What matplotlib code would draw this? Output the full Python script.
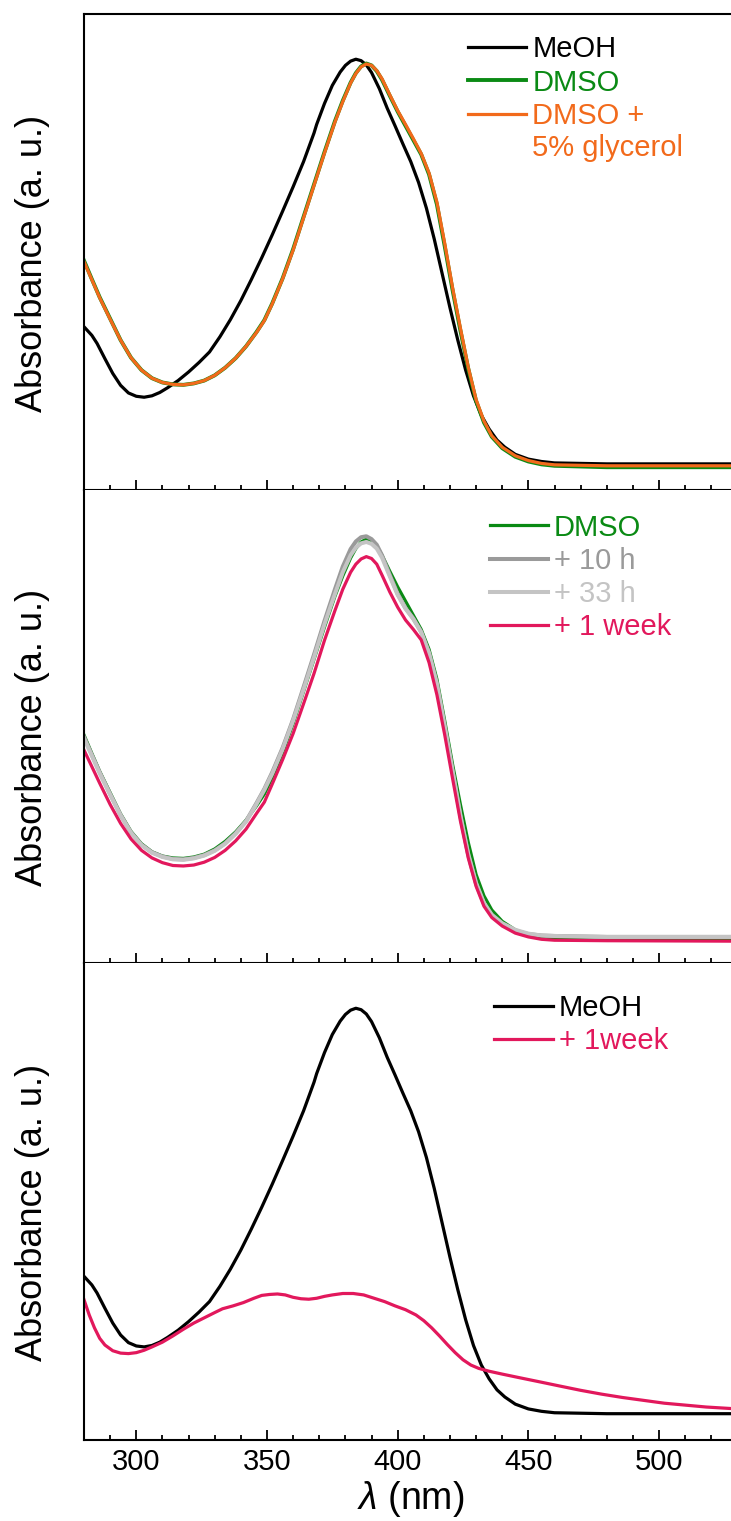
import matplotlib
matplotlib.use("Agg")
import matplotlib.pyplot as plt
from matplotlib.ticker import MultipleLocator

plt.rcParams['font.family'] = ['Liberation Sans', 'DejaVu Sans']
plt.rcParams['mathtext.fontset'] = 'custom'
plt.rcParams['mathtext.rm'] = 'Liberation Sans'
plt.rcParams['mathtext.it'] = 'Liberation Sans:italic'
plt.rcParams['lines.solid_joinstyle'] = 'round'

# data (absorbance in arbitrary units, 0-1 per panel)
wl_meoh = [280, 283, 285, 288, 291, 294, 297, 300, 303, 306, 309, 312, 316, 320, 324, 328,
           332, 336, 340, 344, 348, 352, 356, 360, 364, 368, 369, 372, 375, 378, 380, 382,
           384, 386, 388, 390, 393, 396, 399, 402, 405, 408, 411, 414, 417, 420, 423, 426,
           429, 432, 435, 438, 441, 445, 450, 455, 460, 470, 480, 500, 530]
abs_meoh = [0.343, 0.325, 0.308, 0.276, 0.245, 0.220, 0.204, 0.197, 0.195, 0.198, 0.205, 0.215,
            0.230, 0.248, 0.268, 0.290, 0.322, 0.358, 0.398, 0.442, 0.488, 0.536, 0.586, 0.637,
            0.690, 0.750, 0.768, 0.812, 0.850, 0.878, 0.892, 0.901, 0.905, 0.902, 0.893, 0.877,
            0.843, 0.802, 0.765, 0.727, 0.690, 0.646, 0.592, 0.527, 0.455, 0.383, 0.315, 0.252,
            0.198, 0.157, 0.128, 0.105, 0.090, 0.075, 0.065, 0.060, 0.057, 0.056, 0.055, 0.055,
            0.055]

wl_dmso = [280, 283, 286, 290, 294, 298, 302, 306, 310, 314, 318, 322, 326, 330, 334, 338,
           342, 346, 349, 352, 356, 360, 364, 368, 372, 376, 379, 382, 384, 386, 388, 390,
           392, 394, 397, 400, 403, 406, 409, 412, 415, 418, 421, 424, 427, 430, 433, 436,
           440, 445, 450, 455, 460, 480, 530]
abs_dmso = [0.482, 0.443, 0.405, 0.360, 0.315, 0.278, 0.252, 0.235, 0.226, 0.222, 0.221, 0.224,
            0.230, 0.241, 0.257, 0.277, 0.302, 0.332, 0.357, 0.392, 0.445, 0.506, 0.574, 0.642,
            0.710, 0.775, 0.818, 0.856, 0.876, 0.890, 0.896, 0.892, 0.880, 0.862, 0.828, 0.795,
            0.765, 0.735, 0.705, 0.663, 0.600, 0.512, 0.420, 0.335, 0.255, 0.187, 0.142, 0.112,
            0.088, 0.070, 0.060, 0.054, 0.051, 0.048, 0.048]
abs_glyc = [0.480, 0.442, 0.404, 0.359, 0.315, 0.278, 0.252, 0.235, 0.226, 0.222, 0.221, 0.224,
            0.230, 0.241, 0.257, 0.277, 0.302, 0.331, 0.356, 0.391, 0.444, 0.504, 0.572, 0.640,
            0.708, 0.773, 0.816, 0.855, 0.875, 0.889, 0.895, 0.892, 0.881, 0.864, 0.830, 0.797,
            0.768, 0.738, 0.707, 0.666, 0.605, 0.518, 0.425, 0.340, 0.258, 0.190, 0.145, 0.114,
            0.090, 0.072, 0.062, 0.056, 0.053, 0.051, 0.051]

abs_10h = [0.478, 0.440, 0.403, 0.357, 0.313, 0.276, 0.250, 0.234, 0.225, 0.220, 0.219, 0.222,
           0.228, 0.238, 0.253, 0.274, 0.300, 0.338, 0.368, 0.403, 0.455, 0.515, 0.583, 0.652,
           0.723, 0.790, 0.838, 0.875, 0.891, 0.900, 0.902, 0.896, 0.884, 0.862, 0.820, 0.780,
           0.750, 0.728, 0.700, 0.655, 0.590, 0.500, 0.405, 0.310, 0.228, 0.167, 0.125, 0.100,
           0.082, 0.068, 0.061, 0.058, 0.057, 0.055, 0.055]
abs_33h = [0.475, 0.438, 0.401, 0.356, 0.312, 0.275, 0.249, 0.233, 0.224, 0.219, 0.218, 0.221,
           0.227, 0.237, 0.252, 0.273, 0.299, 0.336, 0.366, 0.400, 0.452, 0.512, 0.578, 0.646,
           0.716, 0.780, 0.826, 0.862, 0.878, 0.887, 0.890, 0.886, 0.876, 0.857, 0.817, 0.778,
           0.749, 0.727, 0.699, 0.655, 0.590, 0.500, 0.406, 0.312, 0.230, 0.169, 0.127, 0.102,
           0.084, 0.070, 0.062, 0.058, 0.057, 0.055, 0.055]
abs_week = [0.450, 0.415, 0.380, 0.335, 0.295, 0.262, 0.238, 0.222, 0.212, 0.206, 0.205, 0.207,
            0.213, 0.223, 0.238, 0.258, 0.283, 0.316, 0.340, 0.378, 0.430, 0.485, 0.548, 0.612,
            0.682, 0.745, 0.790, 0.826, 0.843, 0.854, 0.859, 0.855, 0.843, 0.820, 0.784, 0.752,
            0.725, 0.705, 0.683, 0.635, 0.567, 0.482, 0.390, 0.300, 0.222, 0.162, 0.120, 0.096,
            0.078, 0.063, 0.055, 0.050, 0.048, 0.047, 0.046]

wl_meoh_week = [280, 282, 284, 286, 288, 291, 294, 297, 300, 303, 306, 310, 314, 318, 322, 326,
                330, 333, 337, 341, 345, 348, 351, 354, 357, 360, 363, 366, 369, 372, 375, 379,
                383, 387, 391, 395, 399, 403, 407, 410, 413, 416, 419, 422, 425, 428, 431, 435,
                440, 447, 455, 462, 470, 478, 486, 494, 502, 510, 518, 530]
abs_meoh_week = [0.294, 0.262, 0.235, 0.213, 0.199, 0.187, 0.182, 0.181, 0.183, 0.188, 0.195,
                 0.205, 0.218, 0.232, 0.245, 0.256, 0.267, 0.275, 0.281, 0.288, 0.297, 0.303,
                 0.305, 0.306, 0.304, 0.299, 0.296, 0.295, 0.297, 0.301, 0.304, 0.307, 0.307,
                 0.304, 0.297, 0.290, 0.281, 0.273, 0.262, 0.250, 0.235, 0.218, 0.200, 0.183,
                 0.168, 0.157, 0.150, 0.144, 0.138, 0.130, 0.121, 0.113, 0.104, 0.096, 0.089,
                 0.083, 0.077, 0.073, 0.069, 0.065]

black = '#000000'
green = '#0A8A14'
orange = '#F26A1B'
gray1 = '#9A9A9A'
gray2 = '#C4C4C4'
pink = '#E2185C'

fig = plt.figure(figsize=(7.31, 15.21), dpi=100)
left, width = 84 / 731, 653.5 / 731
ax1 = fig.add_axes([left, 0.6778, width, 0.3130])
ax2 = fig.add_axes([left, 0.3669, width, 0.3110])
ax3 = fig.add_axes([left, 0.0533, width, 0.3136])

lw = 2.3
ax1.plot(wl_meoh, abs_meoh, color=black, lw=lw, label='MeOH')
ax1.plot(wl_dmso, abs_dmso, color=green, lw=lw + 0.5, label='DMSO')
ax1.plot(wl_dmso, abs_glyc, color=orange, lw=lw, label='DMSO +')

ax2.plot(wl_dmso, abs_dmso, color=green, lw=lw, label='DMSO')
ax2.plot(wl_dmso, abs_10h, color=gray1, lw=lw + 0.6, label='+ 10 h')
ax2.plot(wl_dmso, abs_33h, color=gray2, lw=lw + 0.6, label='+ 33 h')
ax2.plot(wl_dmso, abs_week, color=pink, lw=lw, label='+ 1 week')

ax3.plot(wl_meoh, abs_meoh, color=black, lw=lw, label='MeOH')
ax3.plot(wl_meoh_week, abs_meoh_week, color=pink, lw=lw, label='+ 1week')

for ax in (ax1, ax2, ax3):
    ax.set_xlim(280, 530)
    ax.set_ylim(0, 1)
    ax.set_yticks([])
    ax.xaxis.set_major_locator(MultipleLocator(50))
    ax.xaxis.set_minor_locator(MultipleLocator(10))
    ax.tick_params(axis='x', which='major', direction='in', length=7.2, width=1.3,
                   labelsize=21, pad=6, top=False)
    ax.tick_params(axis='x', which='minor', direction='in', length=3.6, width=1.3, top=False)
    for s in ax.spines.values():
        s.set_linewidth(1.5)
    ax.spines['right'].set_visible(False)
    ax.set_ylabel('Absorbance (a. u.)', fontsize=26)
    ax.yaxis.set_label_coords(-0.052, 0.477)

ax1.tick_params(axis='x', labelbottom=False)
ax2.tick_params(axis='x', labelbottom=False)
ax2.spines['top'].set_visible(False)
ax3.spines['top'].set_visible(False)
ax3.set_xlabel(r'$\lambda$ (nm)', fontsize=27, labelpad=2)

leg_kw = dict(loc='upper left', frameon=False, fontsize=21, borderpad=0, borderaxespad=0,
              handlelength=2.0, handletextpad=0.2, labelspacing=0.18, labelcolor='linecolor')
leg1 = ax1.legend(bbox_to_anchor=(0.5876, 0.955), **leg_kw)
ax1.annotate('5% glycerol', xy=(0, 0), xycoords=leg1.get_texts()[2], xytext=(0, -3),
             textcoords='offset points', ha='left', va='top', color=orange, fontsize=21,
             zorder=10)
ax2.legend(bbox_to_anchor=(0.621, 0.950), **leg_kw)
ax3.legend(bbox_to_anchor=(0.628, 0.935), **leg_kw)

fig.savefig('out.png', dpi=100)
